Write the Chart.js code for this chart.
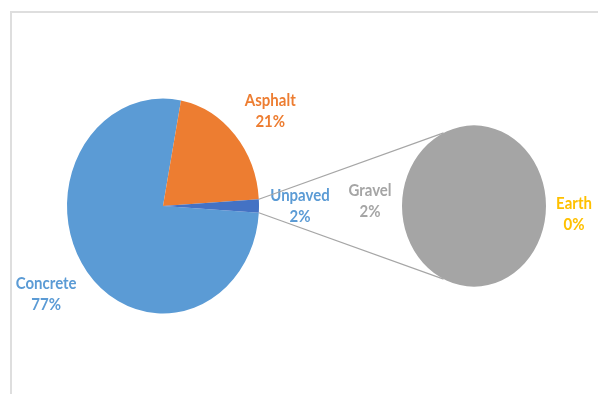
<!DOCTYPE html>
<html>
<head>
<meta charset="utf-8">
<script src="https://cdn.jsdelivr.net/npm/chart.js"></script>
<style>
  html, body { margin: 0; padding: 0; background: #fff; overflow: hidden; }
  #wrap { position: relative; width: 598px; height: 394px; }
  #frame { position: absolute; left: 10px; top: 11px; width: 800px; height: 600px;
           border-left: 2px solid #dedede; border-top: 2px solid #dedede; }
  canvas { position: absolute; left: 0; top: 0; }
</style>
</head>
<body>
<div id="wrap">
  <div id="frame"></div>
  <canvas id="mainPie" width="598" height="394"></canvas>
  <canvas id="subPie" width="598" height="394"></canvas>
</div>
<script>
// road surface shares; "Unpaved" is split out into the small pie
const mainLabels = ['Concrete', 'Asphalt', 'Unpaved'];
const mainValues = [77, 21];
const subLabels = ['Gravel', 'Earth'];
const subValues = [2, 0];

const unpavedValue = subValues.reduce((a, b) => a + b, 0);
const mainData = mainValues.concat([unpavedValue]);
const total = mainData.reduce((a, b) => a + b, 0);

const mainColors = ['#5B9BD5', '#ED7D31', '#4472C4'];
const mainTextColors = ['#5B9BD5', '#ED7D31', '#5B9BD5'];
const subColors = ['#A5A5A5', '#FFC000'];
const subTextColors = ['#A5A5A5', '#FFC000'];

const yStretch = 1.12;
const labelFont = 'bold 15px Lato';

// pies are drawn slightly taller than wide
const stretchPlugin = {
  id: 'stretch',
  beforeDatasetsDraw(chart) {
    const arc = chart.getDatasetMeta(0).data[0];
    const ctx = chart.ctx;
    ctx.save();
    ctx.translate(arc.x, arc.y);
    ctx.scale(1, yStretch);
    ctx.translate(-arc.x, -arc.y);
  },
  afterDatasetsDraw(chart) {
    chart.ctx.restore();
  }
};

// two-line labels (name + percent) outside each slice, with small per-label nudges
const sliceLabels = {
  id: 'sliceLabels',
  afterDraw(chart, args, opts) {
    const ctx = chart.ctx;
    const arcs = chart.getDatasetMeta(0).data;
    arcs.forEach((arc, i) => {
      const mid = (arc.startAngle + arc.endAngle) / 2;
      const r = arc.outerRadius + opts.gap;
      const nudge = opts.nudge[i] || [0, 0];
      const x = arc.x + Math.cos(mid) * r + nudge[0];
      const y = arc.y + Math.sin(mid) * r * yStretch + nudge[1];
      const pct = Math.round(chart.data.datasets[0].data[i] / total * 100) + '%';
      ctx.save();
      ctx.translate(x, y);
      ctx.scale(1, yStretch);
      ctx.font = labelFont;
      ctx.fillStyle = opts.colors[i];
      ctx.textAlign = 'center';
      ctx.textBaseline = 'middle';
      ctx.fillText(chart.data.labels[i], 0, -9.5);
      ctx.fillText(pct, 0, 9.5);
      ctx.restore();
    });
  }
};

const mainChart = new Chart(document.getElementById('mainPie'), {
  type: 'pie',
  data: {
    labels: mainLabels,
    datasets: [{
      data: mainData,
      backgroundColor: mainColors,
      borderWidth: 0
    }]
  },
  options: {
    responsive: false,
    animation: false,
    rotation: 90 - 360 * (total - unpavedValue / 2) / total,
    layout: { padding: { left: 67, right: 339, top: 110, bottom: 92 } },
    plugins: {
      legend: { display: false },
      tooltip: { enabled: false },
      sliceLabels: { gap: 43, colors: mainTextColors, nudge: [[-7, -7], [3, 8], [-2, 0]] }
    }
  },
  plugins: [stretchPlugin, sliceLabels]
});

// lines joining the "Unpaved" slice to the breakdown pie
const connectors = {
  id: 'connectors',
  beforeDatasetsDraw(chart) {
    const src = mainChart.getDatasetMeta(0).data[2];
    const dst = chart.getDatasetMeta(0).data[0];
    const ctx = chart.ctx;
    const onMain = a => [src.x + Math.cos(a) * src.outerRadius,
                         src.y + Math.sin(a) * src.outerRadius * yStretch];
    const onSub = deg => {
      const a = (deg - 90) * Math.PI / 180;
      return [dst.x + Math.cos(a) * dst.outerRadius,
              dst.y + Math.sin(a) * dst.outerRadius * yStretch];
    };
    const pairs = [[onMain(src.startAngle), onSub(335)],
                   [onMain(src.endAngle), onSub(205)]];
    ctx.save();
    ctx.strokeStyle = '#A6A6A6';
    ctx.lineWidth = 1.2;
    pairs.forEach(([a, b]) => {
      ctx.beginPath();
      ctx.moveTo(a[0], a[1]);
      ctx.lineTo(b[0], b[1]);
      ctx.stroke();
    });
    ctx.restore();
  }
};

new Chart(document.getElementById('subPie'), {
  type: 'pie',
  data: {
    labels: subLabels,
    datasets: [{
      data: subValues,
      backgroundColor: subColors,
      borderWidth: 0
    }]
  },
  options: {
    responsive: false,
    animation: false,
    rotation: 90,
    layout: { padding: { left: 402, right: 52, top: 134, bottom: 116 } },
    plugins: {
      legend: { display: false },
      tooltip: { enabled: false },
      sliceLabels: { gap: 30, colors: subTextColors, nudge: [[-2, -5], [-2, 8]] }
    }
  },
  plugins: [connectors, stretchPlugin, sliceLabels]
});
</script>
</body>
</html>
